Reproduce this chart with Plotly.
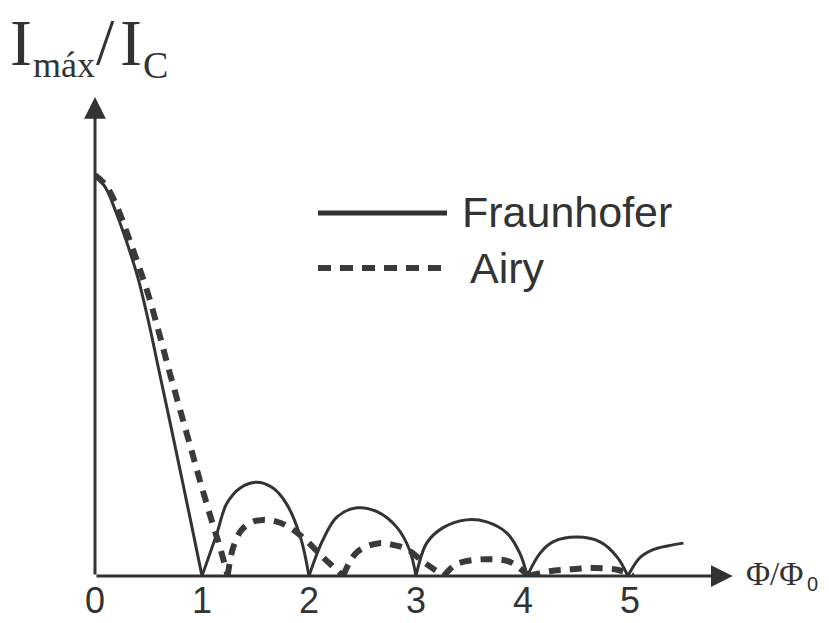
import plotly.graph_objects as go

# Critical current vs. normalised flux: Fraunhofer (rectangular junction)
# and Airy (circular junction) patterns.
frau_x = [0.00, 0.10, 0.20, 0.30, 0.40, 0.50, 0.60, 0.70, 0.80, 0.90, 1.00,
          1.14, 1.23, 1.36, 1.51, 1.66, 1.79, 1.92, 2.00,
          2.13, 2.26, 2.45, 2.64, 2.82, 2.94, 3.00,
          3.10, 3.25, 3.47, 3.66, 3.85, 3.97, 4.04,
          4.16, 4.28, 4.50, 4.72, 4.88, 4.98,
          5.09, 5.21, 5.35, 5.50]
frau_y = [1.000, 0.968, 0.905, 0.830, 0.745, 0.635, 0.510, 0.385, 0.258, 0.130, 0.000,
          0.107, 0.180, 0.220, 0.234, 0.220, 0.180, 0.097, 0.000,
          0.090, 0.147, 0.170, 0.160, 0.122, 0.065, 0.000,
          0.082, 0.120, 0.140, 0.135, 0.107, 0.057, 0.000,
          0.057, 0.085, 0.097, 0.085, 0.047, 0.000,
          0.045, 0.065, 0.075, 0.082]

airy_x = [0.00, 0.10, 0.20, 0.30, 0.40, 0.50, 0.60, 0.70, 0.80, 0.90, 1.00, 1.10, 1.17, 1.24,
          1.29, 1.37, 1.47, 1.57, 1.68, 1.78, 1.94, 2.13, 2.32,
          2.38, 2.45, 2.55, 2.66, 2.78, 2.91, 3.07, 3.26,
          3.35, 3.44, 3.66, 3.88, 4.05,
          4.25, 4.46, 4.67, 4.89, 5.03]
airy_y = [1.000, 0.975, 0.925, 0.855, 0.780, 0.700, 0.605, 0.505, 0.410, 0.315, 0.220, 0.130, 0.070, 0.000,
          0.070, 0.115, 0.135, 0.140, 0.137, 0.127, 0.097, 0.047, 0.000,
          0.035, 0.060, 0.075, 0.082, 0.078, 0.068, 0.035, 0.000,
          0.025, 0.035, 0.042, 0.035, 0.000,
          0.012, 0.017, 0.020, 0.015, 0.000]

tick_vals = [0, 1, 2, 3, 4, 5]
tick_text = ["0", "1", "2", "3", "4", "5"]
series_names = ["Fraunhofer", "Airy"]

W, H = 829, 623
ML, MR, MT, MB = 95, 92, 95, 47
INK = "#333333"


def lobes(xs, ys):
    """Split a |pattern| curve into lobes at its zeros (cusps stay sharp)."""
    out, cx, cy = [], [], []
    for i, (x, y) in enumerate(zip(xs, ys)):
        cx.append(x)
        cy.append(y)
        if y == 0 and i > 0:
            out.append((cx, cy))
            cx, cy = [x], [y]
    if len(cx) > 1:
        out.append((cx, cy))
    return out


def px(x):
    return (x - ML) / (W - ML - MR)


def py(y):
    return (H - MB - y) / (H - MT - MB)


fig = go.Figure()

for sx, sy in lobes(frau_x, frau_y):
    fig.add_trace(go.Scatter(x=sx, y=sy, mode="lines", showlegend=False,
                             line=dict(color=INK, width=3, shape="spline", smoothing=1.0)))
for sx, sy in lobes(airy_x, airy_y):
    fig.add_trace(go.Scatter(x=sx, y=sy, mode="lines", showlegend=False,
                             line=dict(color="#3a3a3a", width=6, dash="12px,9px",
                                       shape="spline", smoothing=1.0)))

annotations = [
    # axes with arrow heads
    dict(x=5.96, y=0, ax=0, ay=0, xref="x", yref="y", axref="x", ayref="y",
         text="", showarrow=True, arrowhead=2, arrowsize=1.45, arrowwidth=3, arrowcolor=INK),
    dict(x=0, y=1.195, ax=0, ay=0, xref="x", yref="y", axref="x", ayref="y",
         text="", showarrow=True, arrowhead=2, arrowsize=1.45, arrowwidth=3, arrowcolor=INK),
]

serif = "Liberation Serif"
sans = "Liberation Sans"

# y-axis title  I_máx / I_C
for txt, x0, yc, size in [("I", 8, 42, 66), ("máx", 31, 65, 36),
                          ("/", 94, 41, 66), ("I", 118, 42, 66), ("C", 141, 65, 38)]:
    annotations.append(dict(x=px(x0), y=py(yc), xref="paper", yref="paper",
                            xanchor="left", yanchor="middle", showarrow=False,
                            text=txt, font=dict(family=serif, size=size, color=INK)))

# x-axis title  Φ/Φ0
annotations.append(dict(x=px(744), y=py(574), xref="paper", yref="paper",
                        xanchor="left", yanchor="middle", showarrow=False,
                        text="Φ/Φ", font=dict(family=serif, size=33, color=INK)))
annotations.append(dict(x=px(805), y=py(584), xref="paper", yref="paper",
                        xanchor="left", yanchor="middle", showarrow=False,
                        text="0", font=dict(family=sans, size=20, color=INK)))

# legend
shapes = [
    dict(type="line", xref="paper", yref="paper", x0=px(318), x1=px(447),
         y0=py(213), y1=py(213), line=dict(color=INK, width=5)),
    dict(type="line", xref="paper", yref="paper", x0=px(318), x1=px(447),
         y0=py(268), y1=py(268), line=dict(color="#3a3a3a", width=6, dash="13px,9px")),
]
annotations.append(dict(x=px(460), y=py(212), xref="paper", yref="paper",
                        xanchor="left", yanchor="middle", showarrow=False,
                        text=series_names[0], font=dict(family=sans, size=43, color=INK)))
annotations.append(dict(x=px(468), y=py(268), xref="paper", yref="paper",
                        xanchor="left", yanchor="middle", showarrow=False,
                        text=series_names[1], font=dict(family=sans, size=43, color=INK)))

fig.update_layout(
    width=W, height=H,
    margin=dict(l=ML, r=MR, t=MT, b=MB, autoexpand=False),
    paper_bgcolor="white", plot_bgcolor="white",
    showlegend=False,
    xaxis=dict(range=[0, 6.0], showgrid=False, zeroline=False, showline=False,
               automargin=False,
               tickmode="array", tickvals=tick_vals, ticktext=tick_text,
               ticks="", ticklabelstandoff=0,
               tickfont=dict(family=sans, size=36, color=INK)),
    yaxis=dict(range=[0, 1.2], showgrid=False, zeroline=False, showline=False,
               automargin=False, showticklabels=False, ticks=""),
    annotations=annotations,
    shapes=shapes,
)

fig.write_html("out.html")
